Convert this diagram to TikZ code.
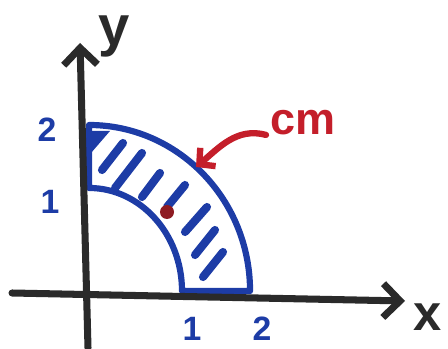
\documentclass[tikz,border=0pt]{standalone}
\usepackage{fontspec}
\setmainfont{Liberation Sans}
\usepackage{tikz}
\usetikzlibrary{arrows.meta}
\definecolor{ink}{HTML}{2A2A2A}
\definecolor{marker}{HTML}{1D3CA6}
\definecolor{crimson}{HTML}{C41E2A}
\definecolor{dotred}{HTML}{8E1B22}

\begin{document}
\begin{tikzpicture}[x=0.025cm, y=0.025cm,
  axis/.style={-{Straight Barb[length=12pt, width=24pt]}, line width=5pt, color=ink, line cap=round},
  ring/.style={draw=marker, line width=4.4pt, line join=round},
  hatch/.style={line width=5.8pt, color=marker, line cap=round},
  arrow/.style={-{Straight Barb[length=8pt, width=17pt]}, line width=4.5pt, color=crimson, line cap=round},
  tick/.style={font=\fontsize{24}{28}\selectfont\bfseries, text=marker, inner sep=0pt},
  axlabel/.style={font=\fontsize{40}{44}\selectfont\bfseries, text=ink, inner sep=0pt}
]
\useasboundingbox (0,0) rectangle (448,349);

% the quarter ring
\draw[ring] (89,224) arc[start angle=90, end angle=0, x radius=4.025cm, y radius=4.15cm]
  -- (182,58) arc[start angle=0, end angle=90, x radius=2.325cm, y radius=2.575cm] -- cycle;
\fill[marker] (91,196) -- (91,218) -- (110,218) -- cycle;
\foreach \ax/\ay/\bx/\by in {102/179/123/206, 115/161/142/196, 142/152/160/176,
    167/142/185/164, 185/117/207/142, 195/94/215/119, 203/72/223/97}
  \draw[hatch] (\ax,\ay) -- (\bx,\by);

% axes
\coordinate (xstart) at (12,56);
\coordinate (xend) at (405,48);
\coordinate (ystart) at (88,1);
\coordinate (yend) at (80,306);
\draw[axis] (xstart) -- (xend);
\draw[axis] (ystart) -- (yend);

\node[axlabel] (ylabel) at (114,313) {y};
\node[axlabel, font=\fontsize{36}{40}\selectfont\bfseries] (xlabel) at (428,32) {x};

\node[tick] (ytwo) at (47,219) {2};
\node[tick] (yone) at (50,147) {1};
\node[tick] (xone) at (192,20) {1};
\node[tick] (xtwo) at (262,20) {2};

% centre of mass
\node[circle, fill=dotred, minimum size=0.35cm, inner sep=0pt] (com) at (167,137) {};
\node[font=\fontsize{32}{36}\selectfont\bfseries, text=crimson, inner sep=3pt] (cmlabel) at (303,226) {cm};
\coordinate (tip) at (196,182);
\draw[arrow] (cmlabel.base west) to[out=165, in=40] (tip);
\end{tikzpicture}
\end{document}
